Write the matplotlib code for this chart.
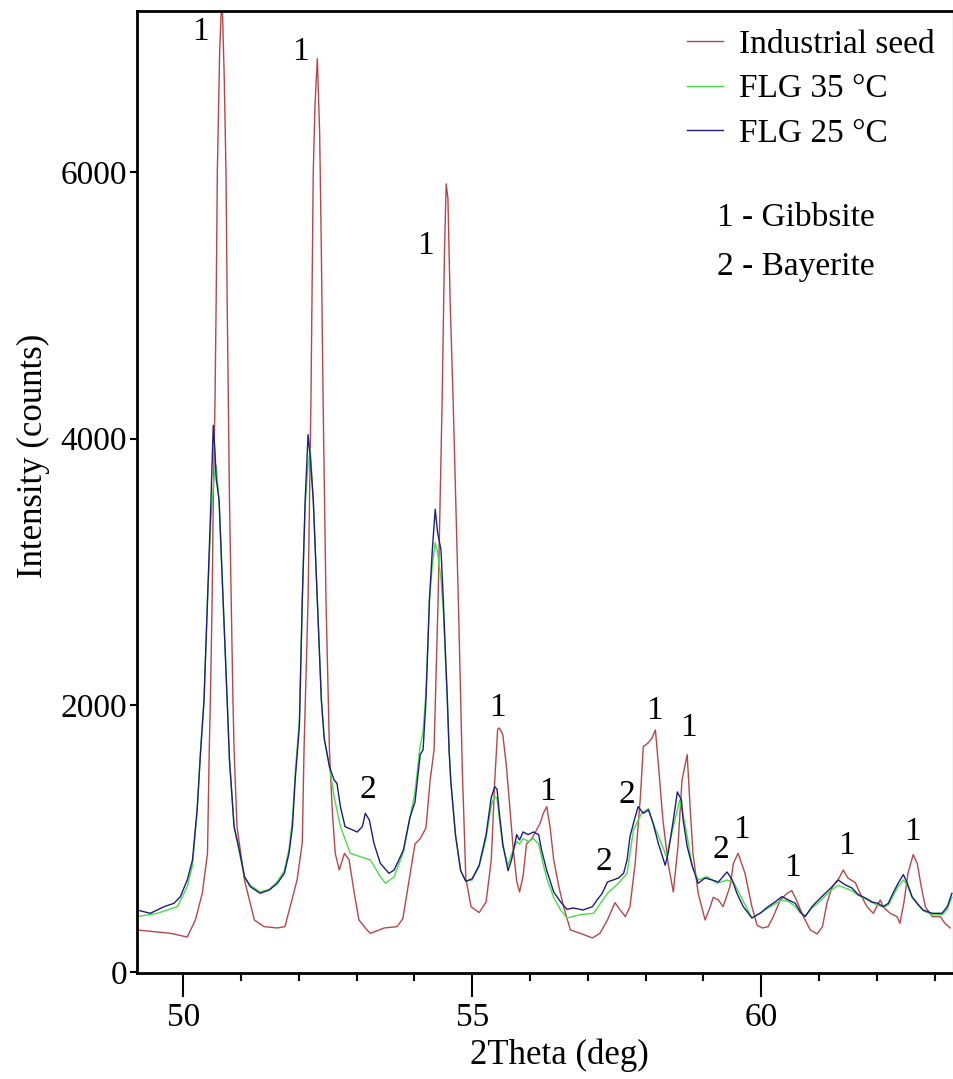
import matplotlib
matplotlib.use("Agg")
import matplotlib.pyplot as plt
from matplotlib.ticker import MultipleLocator

plt.rcParams['font.family'] = ['Liberation Serif', 'DejaVu Serif']

# Industrial seed (2theta, counts)
seed_x = [49.20, 49.55, 49.78, 50.07, 50.21, 50.33, 50.42, 50.45, 50.47, 50.50, 50.52, 50.55,
          50.57, 50.59, 50.63, 50.67, 50.71, 50.74, 50.76, 50.78, 50.80, 50.83, 50.86, 50.88,
          50.93, 51.06, 51.23, 51.40, 51.63, 51.76, 51.85, 51.97, 52.06, 52.09, 52.16, 52.21,
          52.25, 52.28, 52.32, 52.36, 52.39, 52.42, 52.47, 52.53, 52.58, 52.63, 52.70, 52.79,
          52.87, 52.96, 53.04, 53.18, 53.24, 53.48, 53.70, 53.80, 53.92, 54.01, 54.10, 54.20,
          54.27, 54.34, 54.41, 54.48, 54.52, 54.55, 54.58, 54.62, 54.67, 54.76, 54.83, 54.89,
          54.98, 55.12, 55.24, 55.33, 55.39, 55.44, 55.47, 55.53, 55.59, 55.65, 55.71, 55.77,
          55.82, 55.88, 55.94, 56.03, 56.12, 56.18, 56.23, 56.29, 56.35, 56.41, 56.50, 56.58,
          56.70, 56.87, 57.08, 57.21, 57.34, 57.47, 57.56, 57.65, 57.73, 57.82, 57.91, 57.96,
          58.05, 58.11, 58.17, 58.22, 58.30, 58.39, 58.48, 58.56, 58.63, 58.72, 58.77, 58.82,
          58.91, 59.03, 59.12, 59.17, 59.26, 59.34, 59.46, 59.52, 59.60, 59.72, 59.84, 59.93,
          60.02, 60.12, 60.21, 60.33, 60.45, 60.53, 60.61, 60.73, 60.85, 60.97, 61.06, 61.14,
          61.23, 61.33, 61.42, 61.50, 61.63, 61.71, 61.83, 61.94, 62.06, 62.11, 62.23, 62.35,
          62.40, 62.47, 62.54, 62.63, 62.70, 62.77, 62.84, 62.96, 63.10, 63.18, 63.27]
seed_y = [315, 300, 290, 262, 390, 590, 890, 1665, 2040, 2790, 3540, 4290,
          5040, 6000, 6900, 7350, 6700, 6000, 5040, 4290, 3540, 2790, 2040, 1665,
          1090, 690, 390, 340, 330, 340, 490, 690, 970, 1665, 2790, 4290,
          6000, 6500, 6850, 6300, 5400, 4290, 2790, 1665, 1200, 890, 765, 890,
          840, 590, 390, 315, 290, 330, 340, 400, 720, 960, 1000, 1080,
          1430, 1665, 2790, 4290, 5400, 5910, 5800, 5000, 4290, 2790, 1500, 700,
          490, 445, 525, 840, 1430, 1820, 1830, 1780, 1550, 1240, 920, 680,
          600, 720, 960, 1000, 1070, 1120, 1190, 1240, 1080, 840, 640, 490,
          315, 290, 255, 290, 390, 520, 465, 415, 490, 815, 1310, 1690,
          1720, 1755, 1815, 1565, 1140, 815, 600, 940, 1440, 1630, 1240, 890,
          590, 390, 490, 560, 540, 490, 640, 815, 890, 740, 490, 350,
          330, 340, 415, 540, 590, 610, 540, 415, 315, 285, 340, 520,
          640, 690, 765, 705, 670, 590, 490, 440, 540, 490, 440, 415,
          365, 520, 740, 880, 815, 640, 490, 415, 415, 365, 330]

# FLG 35 °C
flg35_x = [49.20, 49.55, 49.90, 50.07, 50.16, 50.24, 50.30, 50.36, 50.42, 50.48, 50.53, 50.57,
           50.62, 50.69, 50.76, 50.80, 50.88, 50.97, 51.06, 51.16, 51.33, 51.49, 51.63, 51.75,
           51.83, 51.89, 51.94, 52.01, 52.06, 52.11, 52.16, 52.20, 52.25, 52.32, 52.39, 52.44,
           52.53, 52.61, 52.72, 52.89, 53.06, 53.24, 53.41, 53.50, 53.65, 53.81, 53.92, 54.01,
           54.10, 54.15, 54.20, 54.26, 54.31, 54.36, 54.40, 54.46, 54.50, 54.57, 54.60, 54.63,
           54.71, 54.80, 54.89, 55.00, 55.12, 55.24, 55.33, 55.39, 55.43, 55.47, 55.53, 55.62,
           55.68, 55.77, 55.82, 55.88, 55.97, 56.06, 56.15, 56.20, 56.29, 56.41, 56.53, 56.64,
           56.87, 57.10, 57.34, 57.53, 57.68, 57.79, 57.93, 58.05, 58.13, 58.25, 58.36, 58.48,
           58.59, 58.68, 58.81, 58.91, 59.06, 59.24, 59.41, 59.53, 59.68, 59.84, 59.98, 60.12,
           60.24, 60.36, 60.47, 60.59, 60.68, 60.76, 60.88, 60.99, 61.11, 61.23, 61.33, 61.45,
           61.57, 61.68, 61.80, 61.92, 62.02, 62.11, 62.20, 62.28, 62.37, 62.46, 62.53, 62.61,
           62.70, 62.80, 62.96, 63.13, 63.22, 63.30]
flg35_y = [415, 440, 490, 640, 800, 1200, 1665, 2040, 2790, 3400, 3700, 3800,
           3540, 2790, 2040, 1590, 1090, 900, 715, 650, 600, 620, 680, 760,
           920, 1150, 1500, 1900, 2790, 3500, 3800, 3920, 3540, 2790, 2040, 1750,
           1540, 1315, 1090, 890, 865, 840, 715, 665, 715, 900, 1150, 1350,
           1700, 1800, 2100, 2790, 3050, 3220, 3150, 2950, 2700, 2040, 1665, 1430,
           1030, 760, 680, 690, 790, 1000, 1250, 1320, 1300, 1150, 940, 800,
           880, 980, 960, 1000, 980, 1000, 960, 860, 700, 560, 465, 405,
           430, 440, 590, 665, 740, 1065, 1190, 1225, 1115, 990, 865, 1090,
           1290, 1115, 790, 690, 715, 665, 690, 665, 540, 405, 440, 480,
           510, 540, 530, 490, 440, 420, 480, 520, 570, 620, 650, 630,
           610, 575, 550, 520, 500, 490, 500, 570, 640, 690, 650, 560,
           510, 460, 430, 430, 470, 560]

# FLG 25 °C
flg25_x = [49.20, 49.43, 49.67, 49.84, 49.95, 50.07, 50.16, 50.24, 50.30, 50.36, 50.42, 50.48,
           50.52, 50.55, 50.57, 50.62, 50.69, 50.76, 50.80, 50.88, 50.97, 51.06, 51.16, 51.33,
           51.49, 51.63, 51.75, 51.83, 51.89, 51.94, 52.01, 52.06, 52.11, 52.16, 52.20, 52.25,
           52.32, 52.39, 52.44, 52.53, 52.61, 52.66, 52.72, 52.80, 53.01, 53.10, 53.15, 53.22,
           53.30, 53.41, 53.56, 53.65, 53.81, 53.92, 54.01, 54.10, 54.15, 54.20, 54.26, 54.31,
           54.36, 54.40, 54.46, 54.50, 54.57, 54.60, 54.63, 54.71, 54.80, 54.89, 55.00, 55.12,
           55.24, 55.33, 55.39, 55.43, 55.47, 55.53, 55.62, 55.68, 55.77, 55.82, 55.88, 55.97,
           56.06, 56.15, 56.20, 56.29, 56.41, 56.53, 56.64, 56.75, 56.92, 57.08, 57.16, 57.25,
           57.34, 57.44, 57.53, 57.62, 57.68, 57.73, 57.79, 57.87, 57.96, 58.05, 58.13, 58.22,
           58.34, 58.39, 58.48, 58.55, 58.62, 58.65, 58.72, 58.81, 58.91, 59.03, 59.15, 59.26,
           59.41, 59.50, 59.58, 59.69, 59.84, 59.98, 60.12, 60.24, 60.36, 60.47, 60.59, 60.68,
           60.76, 60.88, 60.99, 61.11, 61.23, 61.33, 61.45, 61.57, 61.68, 61.80, 61.92, 62.02,
           62.11, 62.20, 62.28, 62.37, 62.46, 62.53, 62.61, 62.70, 62.80, 62.96, 63.13, 63.22,
           63.30]
flg25_y = [465, 440, 490, 515, 565, 690, 840, 1215, 1650, 2040, 2790, 3540,
           4100, 3900, 3700, 3540, 2790, 2040, 1590, 1090, 915, 715, 640, 590,
           615, 665, 740, 890, 1090, 1460, 1840, 2790, 3540, 4030, 3850, 3540,
           2790, 2040, 1750, 1540, 1440, 1415, 1240, 1090, 1050, 1090, 1190, 1140,
           965, 815, 740, 765, 915, 1155, 1275, 1630, 1665, 2040, 2790, 3165,
           3470, 3300, 3165, 2790, 2040, 1665, 1430, 1030, 760, 680, 700, 800,
           1030, 1310, 1390, 1370, 1190, 960, 760, 840, 1030, 990, 1050, 1030,
           1050, 1030, 915, 760, 600, 525, 470, 480, 465, 490, 540, 590,
           675, 690, 705, 740, 840, 1015, 1115, 1240, 1190, 1215, 1115, 965,
           800, 890, 1140, 1350, 1290, 1140, 940, 790, 665, 705, 690, 675,
           750, 690, 590, 490, 405, 440, 490, 525, 565, 540, 515, 450,
           415, 490, 540, 590, 640, 690, 655, 630, 580, 555, 525, 515,
           490, 515, 590, 665, 730, 665, 565, 515, 465, 440, 440, 490,
           590]

# peak markers: 1 - Gibbsite, 2 - Bayerite
mark_x = [50.29, 52.02, 54.19, 55.43, 56.31, 53.20, 57.27, 57.68, 58.15, 58.74, 59.31, 59.65,
          60.54, 61.47, 62.61]
mark_y = [7050, 6900, 5445, 1980, 1350, 1365, 825, 1330, 1960, 1830, 915, 1065,
          780, 945, 1050]
mark_txt = ['1', '1', '1', '1', '1', '2', '2', '2', '1', '1', '2', '1', '1', '1', '1']

fig = plt.figure(figsize=(9.54, 10.79), dpi=100)
ax = fig.add_axes([0.1436, 0.0982, 0.8554, 0.8916])

ax.plot(seed_x, seed_y, color='#b5474a', lw=1.0, label='Industrial seed')
ax.plot(flg35_x, flg35_y, color='#48de48', lw=1.0, label='FLG 35 °C')
ax.plot(flg25_x, flg25_y, color='#1e1e7c', lw=1.0, label='FLG 25 °C')

for x, y, t in zip(mark_x, mark_y, mark_txt):
    ax.text(x, y, t, fontsize=24, ha='center', va='center')

ax.set_xlim(49.2, 63.32)
ax.set_ylim(-8, 7207)
ax.xaxis.set_major_locator(MultipleLocator(5))
ax.xaxis.set_minor_locator(MultipleLocator(1))
ax.set_yticks([0, 2000, 4000, 6000])
ax.tick_params(axis='x', which='major', length=17, width=1.5, labelsize=24, pad=4)
ax.tick_params(axis='x', which='minor', length=6, width=1.5)
ax.tick_params(axis='y', which='major', length=5, width=1.5, labelsize=24, pad=2)

for s in ['left', 'bottom', 'top']:
    ax.spines[s].set_linewidth(2)
ax.spines['right'].set_linewidth(0.8)
ax.spines['right'].set_color('#444444')

ax.set_xlabel('2Theta (deg)', fontsize=25)
ax.set_ylabel('Intensity (counts)', fontsize=25)
ax.xaxis.set_label_coords(0.518, -0.068)
ax.yaxis.set_label_coords(-0.107, 0.538)

ax.legend(loc='upper left', bbox_to_anchor=(0.674, 0.981), frameon=False, fontsize=24,
          handlelength=1.08, handletextpad=0.48, labelspacing=0.42, borderaxespad=0,
          borderpad=0)
ax.text(0.711, 0.785, '1 - Gibbsite', transform=ax.transAxes, fontsize=24, va='center')
ax.text(0.711, 0.734, '2 - Bayerite', transform=ax.transAxes, fontsize=24, va='center')

fig.savefig('out.png', dpi=100)
